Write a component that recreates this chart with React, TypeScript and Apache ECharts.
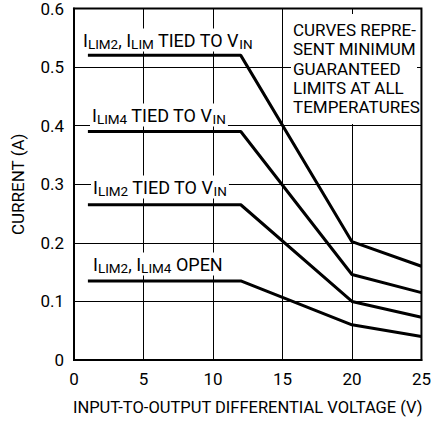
import React, { useEffect, useRef } from "react";
import * as echarts from "echarts";

const xVoltage = [1, 12, 20, 25];
const iLim2AndLimTied = [0.52, 0.52, 0.202, 0.16];
const iLim4Tied = [0.39, 0.39, 0.146, 0.115];
const iLim2Tied = [0.265, 0.265, 0.1, 0.073];
const iLimOpen = [0.135, 0.135, 0.06, 0.04];
const seriesValues = [iLim2AndLimTied, iLim4Tied, iLim2Tied, iLimOpen];
const seriesNames = [
  "ILIM2, ILIM TIED TO VIN",
  "ILIM4 TIED TO VIN",
  "ILIM2 TIED TO VIN",
  "ILIM2, ILIM4 OPEN",
];
const curveLabels = [
  "{m|I}{s|LIM2}{m|, I}{s|LIM}{m| TIED TO V}{s|IN}",
  "{m|I}{s|LIM4}{m| TIED TO V}{s|IN}",
  "{m|I}{s|LIM2}{m| TIED TO V}{s|IN}",
  "{m|I}{s|LIM2}{m|, I}{s|LIM4}{m| OPEN}",
];
const noteLines = [
  "CURVES REPRE-",
  "SENT MINIMUM",
  "GUARANTEED",
  "LIMITS AT ALL",
  "TEMPERATURES",
];
const xTitle = "INPUT-TO-OUTPUT DIFFERENTIAL VOLTAGE (V)";
const yTitle = "CURRENT (A)";

const FONT = "Roboto, 'Liberation Sans', sans-serif";

export default function App() {
  const ref = useRef<HTMLDivElement>(null);
  useEffect(() => {
    if (!ref.current) return;
    const chart = echarts.init(ref.current, null, { renderer: "svg" });
    const labelPos = [
      [81, 40],
      [90, 115],
      [91, 187],
      [91, 264],
    ];
    const rich = {
      m: { fontSize: 18, fontFamily: FONT, fill: "#000", lineHeight: 21 },
      s: { fontSize: 13.5, fontFamily: FONT, fill: "#000", padding: [7, 0, 0, 0] },
    };
    chart.setOption({
      animation: false,
      grid: {
        left: 74,
        right: 9,
        top: 8,
        bottom: 63,
        show: true,
        borderColor: "#000",
        borderWidth: 2,
        backgroundColor: "#fff",
      },
      xAxis: {
        type: "value",
        min: 0,
        max: 25,
        interval: 5,
        axisLine: { show: true, lineStyle: { color: "#000", width: 2 } },
        axisTick: { show: false },
        splitLine: { show: true, lineStyle: { color: "#000", width: 1 } },
        axisLabel: { color: "#000", fontSize: 17, fontFamily: FONT, margin: 10 },
        name: xTitle,
        nameLocation: "middle",
        nameGap: 39,
        nameTextStyle: { color: "#000", fontSize: 16.5, fontFamily: FONT },
      },
      yAxis: {
        type: "value",
        min: 0,
        max: 0.6,
        interval: 0.1,
        axisLine: { show: true, lineStyle: { color: "#000", width: 2 } },
        axisTick: { show: false },
        splitLine: { show: true, lineStyle: { color: "#000", width: 1 } },
        axisLabel: { color: "#000", fontSize: 17, fontFamily: FONT, margin: 10 },
        name: yTitle,
        nameLocation: "middle",
        nameGap: 48,
        nameTextStyle: { color: "#000", fontSize: 17, fontFamily: FONT },
      },
      series: seriesValues.map((vals, i) => ({
        name: seriesNames[i],
        type: "line",
        data: vals.map((v, j) => [xVoltage[j], v]),
        symbol: "none",
        lineStyle: { color: "#000", width: 3 },
        z: 3,
      })),
      graphic: [
        ...curveLabels.map((t, i) => ({
          type: "text",
          x: labelPos[i][0],
          y: labelPos[i][1],
          z: 10,
          style: {
            text: t,
            align: "left",
            verticalAlign: "middle",
            backgroundColor: "#fff",
            padding: [1, 2, 1, 2],
            rich,
          },
        })),
        {
          type: "rect",
          z: 10,
          shape: { x: 291, y: 14, width: 126, height: 110 },
          style: { fill: "#fff" },
        },
        {
          type: "text",
          z: 11,
          x: 293,
          y: 68.5,
          style: {
            text: noteLines.join("\n"),
            align: "left",
            verticalAlign: "middle",
            fontSize: 17,
            lineHeight: 19.2,
            fontFamily: FONT,
            fill: "#000",
          },
        },
      ],
    });
    return () => chart.dispose();
  }, []);
  return <div ref={ref} style={{ width: 434, height: 423, position: "absolute", left: 0, top: 0 }} />;
}
